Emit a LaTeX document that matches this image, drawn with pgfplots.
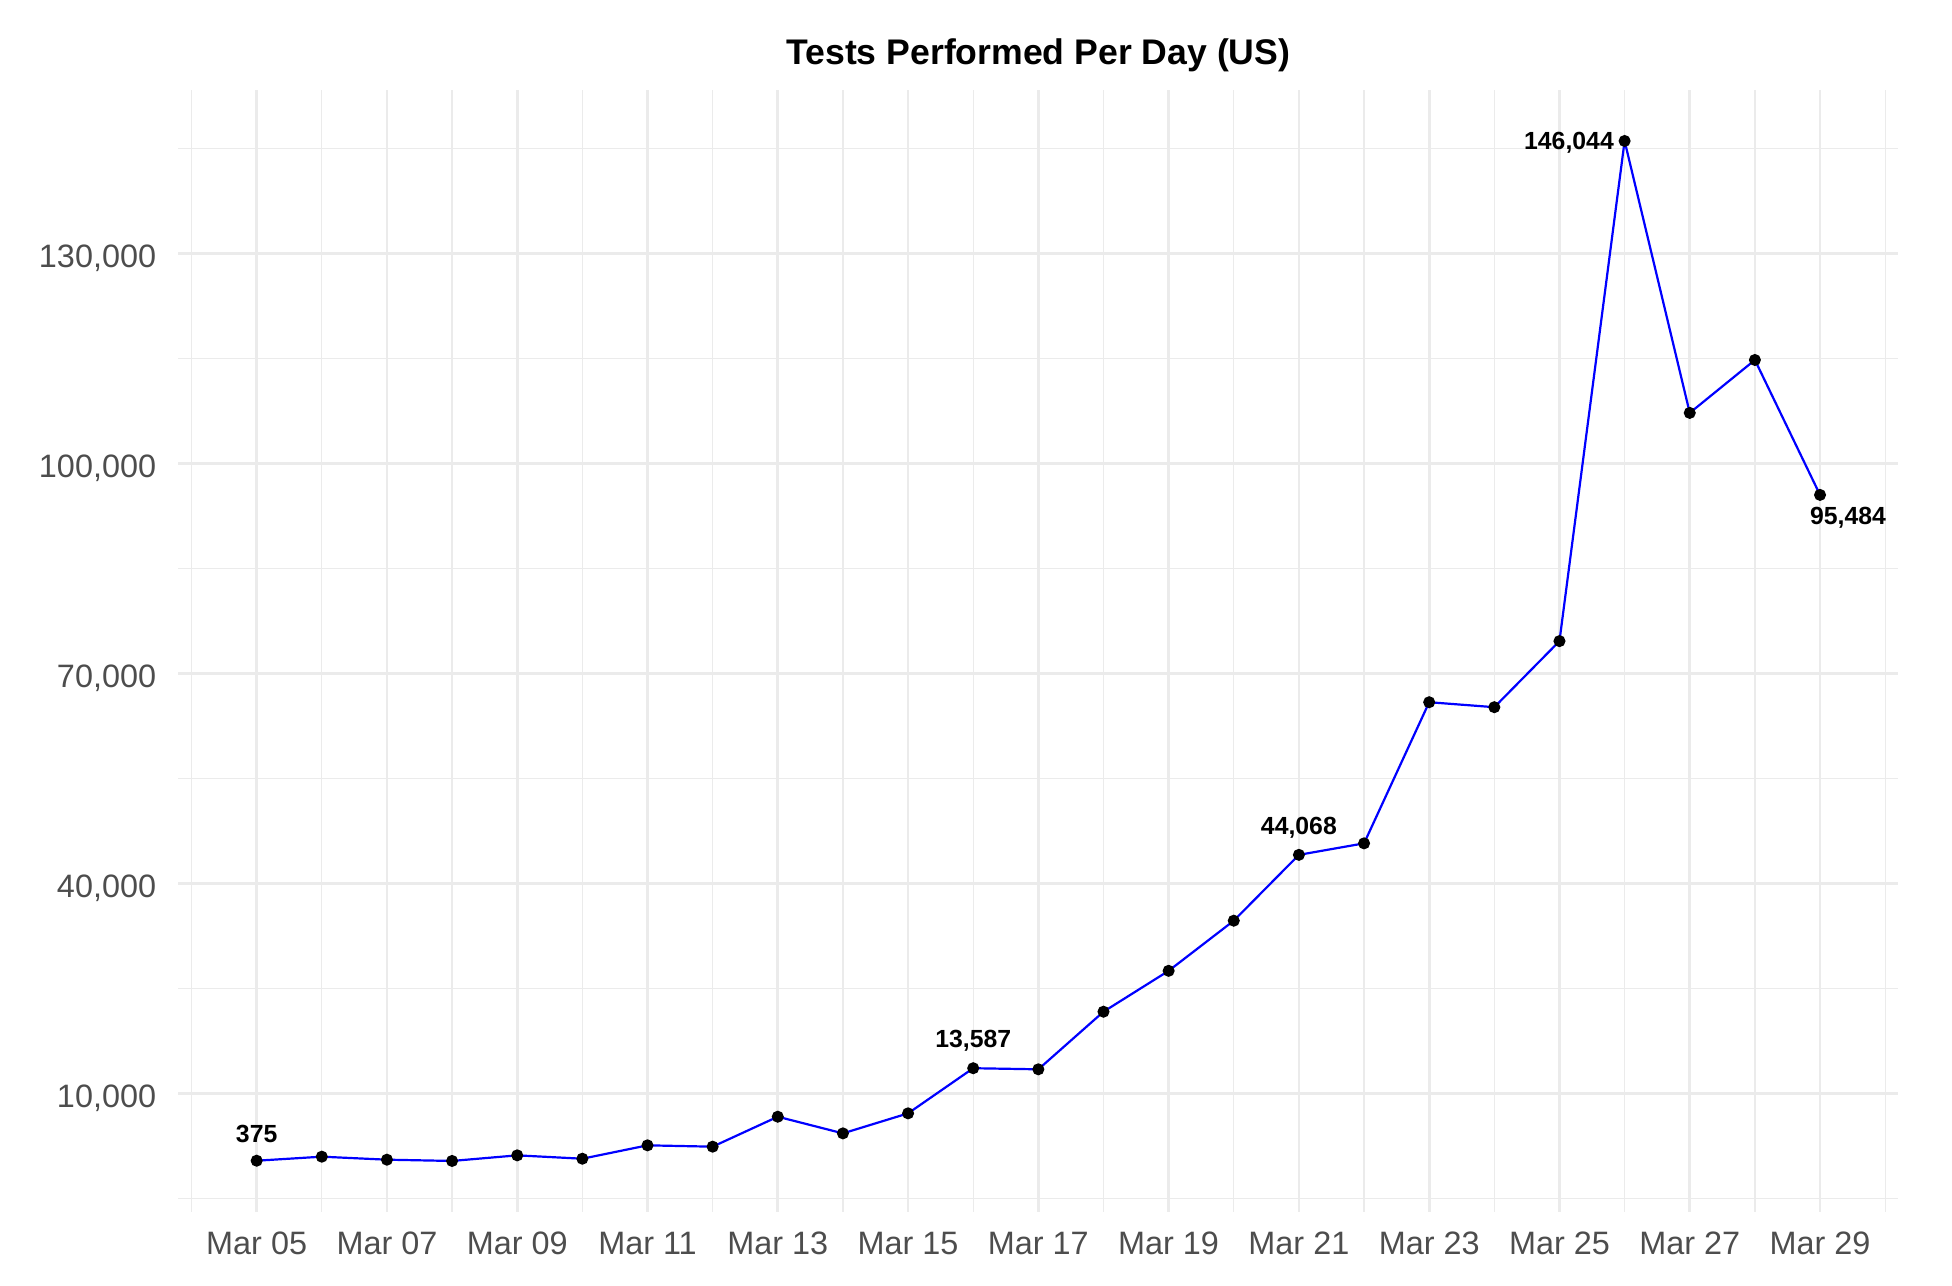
\documentclass[border=0pt]{standalone}
\usepackage{pgfplots}
\pgfplotsset{compat=1.18}
\usepackage{fontspec}
\setmainfont{Liberation Sans}
\definecolor{gridgray}{HTML}{EBEBEB}
\definecolor{ticktext}{HTML}{4D4D4D}
\begin{document}
\begin{tikzpicture}
\begin{axis}[
  scale only axis,
  width=429.925pt, height=280.425pt,
  xmin=-1.2, xmax=25.2,
  ymin=-6908.45, ymax=153327.45,
  scaled y ticks=false,
  scaled x ticks=false,
  axis line style={draw=none},
  tick style={draw=none},
  xtick={0,2,...,24},
  xticklabels={Mar 05,Mar 07,Mar 09,Mar 11,Mar 13,Mar 15,Mar 17,Mar 19,Mar 21,Mar 23,Mar 25,Mar 27,Mar 29},
  minor xtick={-1,1,...,25},
  ytick={10000,40000,70000,100000,130000},
  yticklabels={{10,000},{40,000},{70,000},{100,000},{130,000}},
  minor ytick={-5000,25000,55000,85000,115000,145000},
  grid=both,
  major grid style={gridgray, line width=0.68pt},
  minor grid style={gridgray, line width=0.34pt},
  /pgf/number format/assume math mode=true,
  xticklabel style={font=\fontsize{8.1}{9}\selectfont, text=ticktext, inner sep=0pt, anchor=base, yshift=-10.7pt},
  yticklabel style={font=\fontsize{8.1}{9}\selectfont, text=ticktext, inner sep=0pt, anchor=base east, xshift=-5.4pt, yshift=-3.5pt},
  clip=false,
]
\addplot[only marks, mark=*, mark size=1.3pt, black] coordinates {
(0,375) (1,950) (2,520) (3,340) (4,1140) (5,660) (6,2570) (7,2380) (8,6660) (9,4280)
(10,7140) (11,13587) (12,13430) (13,21660) (14,27500) (15,34660) (16,44068) (17,45710)
(18,65870) (19,65160) (20,74600) (21,146044) (22,107200) (23,114760) (24,95484)
};
\addplot[color={rgb,255:red,0;green,0;blue,255}, line width=0.55pt, mark=none] coordinates {
(0,375) (1,950) (2,520) (3,340) (4,1140) (5,660) (6,2570) (7,2380) (8,6660) (9,4280)
(10,7140) (11,13587) (12,13430) (13,21660) (14,27500) (15,34660) (16,44068) (17,45710)
(18,65870) (19,65160) (20,74600) (21,146044) (22,107200) (23,114760) (24,95484)
};
\tikzset{lbl/.style={font=\bfseries\fontsize{6.2}{7}\selectfont, inner sep=0pt, text=black}}
\node[lbl, anchor=center, yshift=6.75pt] at (axis cs:0,375) {375};
\node[lbl, anchor=center, yshift=6.75pt] at (axis cs:11,13587) {13,587};
\node[lbl, anchor=center, yshift=6.75pt] at (axis cs:16,44068) {44,068};
\node[lbl, anchor=east, xshift=-2.5pt, yshift=-0.5pt] at (axis cs:21,146044) {146,044};
\node[lbl, anchor=center, xshift=7pt, yshift=-5.75pt] at (axis cs:24,95484) {95,484};
\node[font=\bfseries\fontsize{8.9}{10}\selectfont, inner sep=0pt, anchor=base, yshift=6.4pt] at (rel axis cs:0.5,1) {Tests Performed Per Day (US)};
\end{axis}
\pgfresetboundingbox
\useasboundingbox (-44.625pt,-18.575pt) rectangle (443.375pt,302.925pt);
\end{tikzpicture}
\end{document}
